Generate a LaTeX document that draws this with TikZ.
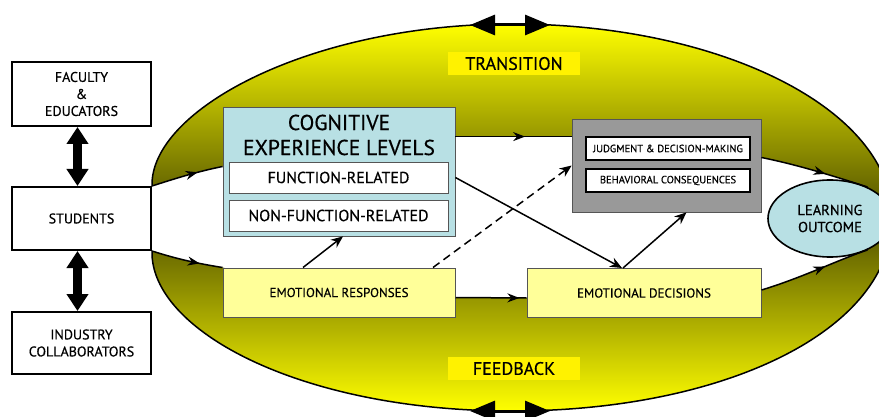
\documentclass[tikz,border=0pt]{standalone}
\usepackage{fontspec}
\setmainfont{PT Sans}[FakeBold=0.5]
\usetikzlibrary{arrows.meta,shapes.geometric,decorations.markings}
\definecolor{cogblue}{RGB}{184,224,228}
\definecolor{paleyellow}{RGB}{255,255,153}
\definecolor{boxgrey}{RGB}{153,153,153}
\definecolor{edgegrey}{RGB}{85,85,85}
\pgfdeclarelayer{bg}
\pgfsetlayers{bg,main}
\tikzset{
  partybox/.style={draw=black, line width=2pt, fill=white, minimum width=139pt, align=center, inner sep=0pt, font=\fontsize{14}{17}\selectfont},
  cogbox/.style={draw=edgegrey, line width=0.8pt, fill=cogblue, minimum width=232pt, minimum height=129pt},
  levelbox/.style={draw=edgegrey, line width=0.8pt, fill=white, minimum width=219pt, minimum height=31pt, inner sep=0pt, font=\fontsize{16}{18}\selectfont},
  emobox/.style={draw=edgegrey, line width=1pt, fill=paleyellow, minimum width=232pt, minimum height=49pt, inner sep=0pt, font=\fontsize{13}{15}\selectfont},
  greybox/.style={draw=edgegrey, line width=0.8pt, fill=boxgrey, minimum width=189pt, minimum height=93pt},
  smallbox/.style={draw=black, line width=2.2pt, fill=white, minimum width=164pt, minimum height=23pt, inner sep=0pt, font=\fontsize{10.5}{12}\selectfont},
  outcome/.style={ellipse, draw=black, line width=1.6pt, fill=cogblue, minimum width=124pt, minimum height=77pt, align=center, inner sep=0pt, font=\fontsize{14.5}{17}\selectfont},
  tag/.style={fill=yellow, minimum width=132pt, minimum height=23pt, inner sep=0pt, font=\fontsize{18}{20}\selectfont},
  flow/.style={line width=1.5pt, postaction={decorate}, decoration={markings, mark=at position #1 with {\arrow{Stealth[length=12pt,width=9pt]}}}},
  link/.style={line width=1.5pt, -{Stealth[length=12pt,width=10pt]}},
  bigtwoway/.style={line width=9pt, {Triangle[length=17pt,width=21pt]}-{Triangle[length=17pt,width=21pt]}},
  twoway/.style={line width=3pt, {Triangle[length=25pt,width=20pt]}-{Triangle[length=25pt,width=20pt]}}
}
\begin{document}
\begin{tikzpicture}[x=1pt,y=-1pt]
    \useasboundingbox (0,0) rectangle (879,417);
    \node[partybox, minimum height=64pt] (fac) at (81.5,94) {FACULTY\\\&\\EDUCATORS};
    \node[partybox, minimum height=63pt] (stud) at (81.5,218.5) {STUDENTS};
    \node[partybox, minimum height=62pt] (ind) at (81.5,343) {INDUSTRY\\COLLABORATORS};
    \draw[bigtwoway] ([xshift=-4pt]fac.south) -- ([xshift=-4pt]stud.north);
    \draw[bigtwoway] ([xshift=-4pt]stud.south) -- ([xshift=-4pt]ind.north);

    \node[cogbox] (cog) at (339,171.5) {};
    \node[align=center, inner sep=0pt, font=\fontsize{21.5}{25}\selectfont] (cogtitle) at (339,135) {COGNITIVE\\EXPERIENCE LEVELS};
    \node[levelbox] (fr) at (338.5,177.5) {FUNCTION-RELATED};
    \node[levelbox] (nfr) at (338.5,215.5) {NON-FUNCTION-RELATED};
    \node[emobox] (er) at (339,292.5) {EMOTIONAL RESPONSES};
    \node[emobox, minimum width=234pt] (ed) at (644,293) {EMOTIONAL DECISIONS};
    \node[greybox] (grey) at (666.5,165.5) {};
    \node[smallbox] (jdm) at (668,148.5) {JUDGMENT \& DECISION-MAKING};
    \node[smallbox] (bc) at (668,180.5) {BEHAVIORAL CONSEQUENCES};
    \node[outcome] (lo) at (830,218.5) {LEARNING\\OUTCOME};
    \node[tag] (trans) at (514,63.5) {TRANSITION};
    \node[tag] (fb) at (514,368.5) {FEEDBACK};

    \coordinate (topl) at (470,25);
    \coordinate (topr) at (550,25);
    \coordinate (botl) at (470,411);
    \coordinate (botr) at (550,411);

    \begin{pgfonlayer}{bg}
        \draw[line width=1.5pt, top color=yellow, bottom color=yellow, middle color=yellow!30!black]
            (stud.north east) .. controls (150,110) and (310,24) .. (512,24)
            .. controls (722,24) and (892,110) .. (892,217)
            .. controls (893,330) and (725,411) .. (512,411)
            .. controls (300,411) and (150,330) .. (stud.south east) -- cycle;
        \fill[white] (stud.north east) .. controls +(25,-8) and +(-25,5) .. ([yshift=5pt]cog.west)
            -- ([yshift=-30pt]cog.north east) -- ([yshift=-18pt]grey.north west)
            -- ([yshift=8pt]grey.east) .. controls +(40,8) and +(-25,-8) .. (lo.40)
            -- (lo.-40) .. controls +(-25,8) and +(40,-12) .. ([yshift=3pt]ed.east)
            -- ([yshift=-5pt]ed.west) -- ([yshift=-5pt]er.east)
            -- (er.north west) .. controls +(-25,-4) and +(25,8) .. (stud.south east) -- cycle;
    \end{pgfonlayer}

    \draw[flow=0.65] (stud.north east) .. controls +(25,-8) and +(-25,5) .. ([yshift=5pt]cog.west);
    \draw[flow=0.6] ([yshift=-30pt]cog.north east) -- ([yshift=-18pt]grey.north west);
    \draw[flow=0.6] ([yshift=8pt]grey.east) .. controls +(40,8) and +(-25,-8) .. (lo.40);
    \draw[flow=0.68] (stud.south east) .. controls +(25,8) and +(-25,-4) .. (er.north west);
    \draw[flow=0.9] ([yshift=-5pt]er.east) -- ([yshift=-5pt]ed.west);
    \draw[flow=0.6] ([yshift=3pt]ed.east) .. controls +(40,-12) and +(-25,8) .. (lo.-40);

    \draw[link] ([xshift=-36pt]er.north) -- ([xshift=4pt]cog.south);
    \draw[link, dash pattern=on 8pt off 5pt] ([xshift=94pt]er.north) -- (grey.west);
    \draw[link] (fr.east -| cog.east) -- ([xshift=-22pt]ed.north);
    \draw[link] ([xshift=-21pt]ed.north) -- ([xshift=20pt]grey.south);

    \draw[twoway] (topl) -- (topr);
    \draw[twoway] (botl) -- (botr);
\end{tikzpicture}
\end{document}
